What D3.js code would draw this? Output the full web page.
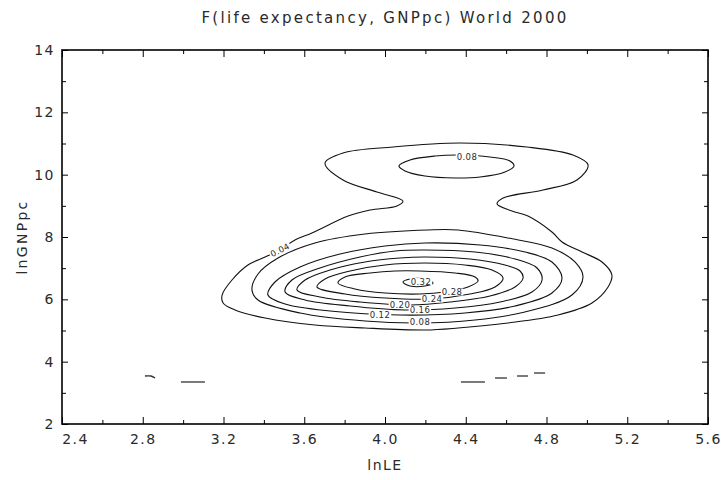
<!DOCTYPE html>
<html><head><meta charset="utf-8">
<script src="https://cdn.jsdelivr.net/npm/d3@7"></script>
<style>
body{margin:0;background:#fff}
svg text{font-family:"DejaVu Sans",sans-serif;fill:#2a2a2a}
</style>
</head><body>
<svg id="chart" width="721" height="480"></svg>
<script>
// ---------- data ----------
const chartTitle = "F(life expectancy, GNPpc) World 2000";
const xAxisTitle = "lnLE";
const yAxisTitle = "lnGNPpc";
const xDomain = [2.4, 5.6];
const yDomain = [2, 14];
const xMajorTicks = [2.4, 2.8, 3.2, 3.6, 4.0, 4.4, 4.8, 5.2, 5.6];
const xMinorTicks = [2.6, 3.0, 3.4, 3.8, 4.2, 4.6, 5.0, 5.4];
const yMajorTicks = [2, 4, 6, 8, 10, 12, 14];
const yMinorTicks = [3, 5, 7, 9, 11, 13];

// contour lines, points as [lnLE, lnGNPpc]
const contour004 = [[3.703,10.374],[3.792,10.695],[4.040,10.888],[4.372,11.016],[4.703,10.888],[4.931,10.631],[5.006,10.310],[4.951,9.829],[4.783,9.508],[4.585,9.251],[4.555,9.060],[4.629,8.834],[4.708,8.674],[4.827,8.161],[4.877,7.840],[4.976,7.519],[5.075,7.198],[5.124,6.781],[5.105,6.396],[5.025,5.882],[4.857,5.497],[4.609,5.241],[4.362,5.080],[4.198,5.016],[3.901,5.080],[3.653,5.177],[3.406,5.401],[3.257,5.658],[3.198,5.882],[3.193,6.139],[3.242,6.620],[3.321,7.102],[3.406,7.358],[3.480,7.583],[3.554,7.904],[3.638,8.128],[3.817,8.674],[3.926,8.866],[4.059,8.995],[4.089,9.155],[3.960,9.444],[3.792,9.829]];
const contour008Upper = [[4.069,10.278],[4.124,10.471],[4.248,10.599],[4.372,10.631],[4.520,10.567],[4.619,10.439],[4.639,10.278],[4.594,10.086],[4.471,9.925],[4.347,9.893],[4.198,9.957],[4.099,10.118]];
const contour008 = [[4.213,8.225],[4.362,8.225],[4.609,7.968],[4.827,7.647],[4.941,7.198],[4.981,6.717],[4.926,6.139],[4.693,5.594],[4.446,5.337],[4.163,5.241],[3.901,5.305],[3.579,5.562],[3.371,5.979],[3.341,6.300],[3.371,6.813],[3.470,7.326],[3.653,7.808],[3.901,8.096]];
const contour012 = [[4.198,7.808],[4.471,7.743],[4.694,7.519],[4.827,7.198],[4.877,6.684],[4.827,6.203],[4.644,5.786],[4.396,5.562],[4.074,5.497],[3.728,5.626],[3.505,5.850],[3.420,6.139],[3.455,6.556],[3.579,7.037],[3.777,7.454],[4.000,7.711]];
const contour016 = [[4.198,7.583],[4.446,7.519],[4.644,7.294],[4.753,7.005],[4.778,6.620],[4.728,6.235],[4.570,5.914],[4.347,5.722],[4.099,5.658],[3.827,5.786],[3.604,5.979],[3.505,6.235],[3.539,6.620],[3.678,7.005],[3.876,7.358],[4.050,7.551]];
const contour020 = [[4.198,7.358],[4.421,7.294],[4.594,7.102],[4.669,6.909],[4.684,6.684],[4.644,6.396],[4.520,6.107],[4.322,5.914],[4.124,5.818],[3.876,5.914],[3.678,6.075],[3.564,6.300],[3.604,6.620],[3.728,6.941],[3.901,7.198],[4.074,7.326]];
const contour024 = [[4.198,7.166],[4.396,7.102],[4.530,6.941],[4.585,6.684],[4.545,6.396],[4.421,6.171],[4.223,6.011],[4.000,6.043],[3.802,6.171],[3.663,6.396],[3.703,6.652],[3.827,6.909],[4.000,7.102]];
const contour028 = [[4.173,6.909],[4.347,6.845],[4.446,6.717],[4.461,6.588],[4.411,6.396],[4.297,6.235],[4.173,6.171],[4.000,6.203],[3.851,6.332],[3.767,6.524],[3.802,6.717],[3.926,6.845],[4.050,6.909]];
const contour032 = [[4.089,6.556],[4.124,6.652],[4.198,6.652],[4.238,6.524],[4.198,6.428],[4.124,6.428]];
// small open fragments near the bottom
const fragments = [
  [[2.811,3.540],[2.841,3.540],[2.861,3.476]],
  [[2.989,3.348],[3.108,3.348]],
  [[4.376,3.348],[4.495,3.348]],
  [[4.545,3.476],[4.604,3.476]],
  [[4.654,3.540],[4.708,3.540]],
  [[4.738,3.636],[4.793,3.636]]
];
const closedContours = [contour004, contour008Upper, contour008, contour012, contour016, contour020, contour024, contour028, contour032];
// contour labels: text, position, angle
const labelTexts = ["0.04", "0.08", "0.08", "0.12", "0.16", "0.20", "0.24", "0.28", "0.32"];
const labelX = [3.480, 4.406, 4.173, 3.975, 4.173, 4.074, 4.233, 4.332, 4.178];
const labelY = [7.583, 10.567, 5.273, 5.497, 5.658, 5.818, 6.011, 6.235, 6.570];
const labelAngle = [-27, 0, 0, 0, 0, 0, 0, 0, 0];

// ---------- drawing ----------
const svg = d3.select("#chart");
const L = 62, R = 708, T = 50, B = 424;
const x = d3.scaleLinear(xDomain, [L, R]);
const y = d3.scaleLinear(yDomain, [B, T]);

svg.append("text").attr("x", 385).attr("y", 23).attr("text-anchor", "middle")
  .style("font-size", "15px").style("letter-spacing", "2.3px").text(chartTitle);

function styleAxis(g){
  g.select(".domain").remove();
  g.selectAll("line").attr("stroke", "#000").attr("stroke-width", 1);
  g.selectAll("text").style("font-size", "14px").style("letter-spacing", "1.5px")
    .attr("fill", "#2a2a2a").style("font-family", "DejaVu Sans, sans-serif");
}
// bottom
svg.append("g").attr("transform", `translate(0,${B})`)
  .call(d3.axisBottom(x).tickValues(xMajorTicks).tickSize(-7).tickSizeOuter(0).tickPadding(10).tickFormat(d3.format(".1f")))
  .call(styleAxis)
  .call(g => g.selectAll(".tick text").filter((d,i) => i === 0).attr("dx", 13));
svg.append("g").attr("transform", `translate(0,${B})`)
  .call(d3.axisBottom(x).tickValues(xMinorTicks).tickSize(-4).tickSizeOuter(0).tickFormat(""))
  .call(styleAxis);
// top
svg.append("g").attr("transform", `translate(0,${T})`)
  .call(d3.axisTop(x).tickValues(xMajorTicks).tickSize(-7).tickSizeOuter(0).tickFormat(""))
  .call(styleAxis);
svg.append("g").attr("transform", `translate(0,${T})`)
  .call(d3.axisTop(x).tickValues(xMinorTicks).tickSize(-4).tickSizeOuter(0).tickFormat(""))
  .call(styleAxis);
// left
svg.append("g").attr("transform", `translate(${L},0)`)
  .call(d3.axisLeft(y).tickValues(yMajorTicks).tickSize(-6).tickSizeOuter(0).tickPadding(7).tickFormat(d3.format("d")))
  .call(styleAxis);
svg.append("g").attr("transform", `translate(${L},0)`)
  .call(d3.axisLeft(y).tickValues(yMinorTicks).tickSize(-4).tickSizeOuter(0).tickFormat(""))
  .call(styleAxis);
// right
svg.append("g").attr("transform", `translate(${R},0)`)
  .call(d3.axisRight(y).tickValues(yMajorTicks).tickSize(-6).tickSizeOuter(0).tickFormat(""))
  .call(styleAxis);
svg.append("g").attr("transform", `translate(${R},0)`)
  .call(d3.axisRight(y).tickValues(yMinorTicks).tickSize(-4).tickSizeOuter(0).tickFormat(""))
  .call(styleAxis);

svg.append("rect").attr("x", L).attr("y", T).attr("width", R - L).attr("height", B - T)
  .attr("fill", "none").attr("stroke", "#000").attr("stroke-width", 1.6);

svg.append("text").attr("x", 385).attr("y", 470).attr("text-anchor", "middle")
  .style("font-size", "14px").style("letter-spacing", "1.5px").text(xAxisTitle);
svg.append("text").attr("transform", "translate(27,237) rotate(-90)").attr("text-anchor", "middle")
  .style("font-size", "14px").style("letter-spacing", "2.3px").text(yAxisTitle);

// contours
const closedLine = d3.line().x(d => x(d[0])).y(d => y(d[1])).curve(d3.curveCatmullRomClosed.alpha(0.5));
const openLine = d3.line().x(d => x(d[0])).y(d => y(d[1])).curve(d3.curveCatmullRom.alpha(0.5));
const cg = svg.append("g");
cg.selectAll("path.c").data(closedContours).join("path").attr("class", "c")
  .attr("d", closedLine).attr("fill", "none").attr("stroke", "#111").attr("stroke-width", 1.1);
cg.selectAll("path.f").data(fragments).join("path").attr("class", "f")
  .attr("d", openLine).attr("fill", "none").attr("stroke", "#333").attr("stroke-width", 1.3);

// labels
const lg = svg.append("g");
labelTexts.forEach((t, i) => {
  const g = lg.append("g").attr("transform", `translate(${x(labelX[i])},${y(labelY[i])}) rotate(${labelAngle[i]})`);
  const rect = g.append("rect").attr("fill", "#fff");
  const txt = g.append("text").attr("text-anchor", "middle").attr("dy", "0.35em")
    .style("font-size", "8.5px").style("letter-spacing", "0.4px").text(t);
  const bb = txt.node().getBBox();
  rect.attr("x", bb.x - 1).attr("y", bb.y + 1.5).attr("width", bb.width + 2).attr("height", bb.height - 3);
});
</script>
</body></html>
